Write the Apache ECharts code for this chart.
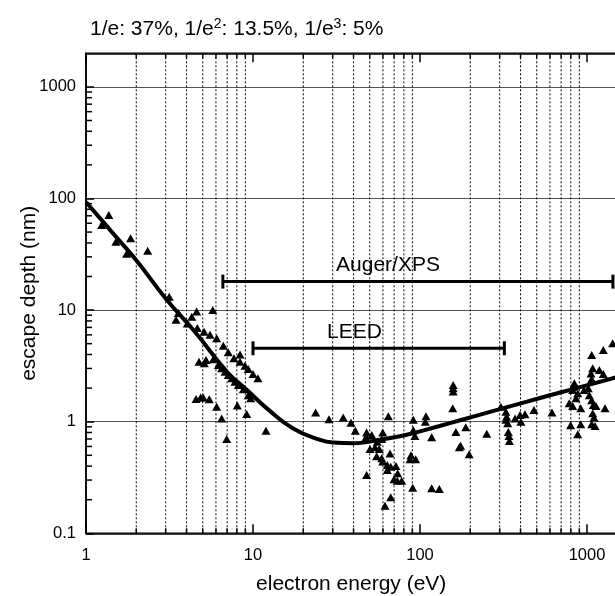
<!DOCTYPE html>
<html>
<head>
<meta charset="utf-8">
<script src="https://cdn.jsdelivr.net/npm/echarts@6/dist/echarts.min.js"></script>
<style>
html,body{margin:0;padding:0;background:#fff}
#chart{width:615px;height:596px}
</style>
</head>
<body>
<div id="chart"></div>
<script>
// universal curve
const curveE = [1, 1.5, 2, 3, 4.5, 7, 9.2, 12.6, 17.4, 25, 30, 40, 48, 65, 87, 131, 174, 208, 332, 523, 824, 1500]
const curveD = [93, 46, 28, 12.7, 6.36, 2.79, 1.92, 1.25, 0.87, 0.69, 0.65, 0.64, 0.658, 0.71, 0.776, 0.915, 1.03, 1.11, 1.35, 1.63, 1.96, 2.5]

// measured points [energy eV, depth nm]
const pointsLow = [
  [1.37,71],[1.24,58],[1.51,41],[1.85,44],[1.75,32],[2.34,34],[3.15,13.2],[3.57,9.4],[3.46,8.2],
  [4.6,9.7],[5.74,10],[4.3,8.7],[4.04,7.6],[4.64,6.9],[5.09,6.4],[5.53,6.0],[6.06,5.6],[6.64,4.8],
  [7.11,4.2],[8.36,4.0],[7.69,3.7],[8.36,3.45],[8.96,3.17],[9.37,2.97],[10.0,2.67],[10.7,2.45],
  [4.75,3.45],[5.23,3.57],[5.11,3.34],[5.78,3.62],[6.2,3.22],[6.49,3.01],[6.8,2.8],[7.11,2.62],
  [7.46,2.45],[7.8,2.28],[8.17,2.13],[8.75,1.95],[9.37,1.73],[9.69,1.62],[4.56,1.6],[4.86,1.65],
  [5.04,1.65],[5.47,1.59],[6.06,1.36],[8.05,1.4],[6.49,1.07],[9.17,1.17],[6.96,0.70],[11.96,0.83]
]
const pointsMid = [
  [23.7,1.21],[28.5,1.05],[34.7,1.09],[38.6,0.98],[41,0.83],[47.9,0.80],[51.4,0.76],[47.5,0.725],
  [59.8,0.80],[59,0.70],[64.6,1.12],[55.5,0.66],[50.2,0.57],[53.8,0.59],[57,0.57],[55,0.49],
  [59,0.47],[66.1,0.52],[59.8,0.44],[63.7,0.41],[66.8,0.395],[71.8,0.40],[63.7,0.37],[73.5,0.345],
  [47.9,0.333],[69.9,0.305],[73.1,0.296],[77.7,0.296],[66.8,0.21],[61.7,0.177],[91.2,1.04],
  [91.2,0.84],[93.3,0.745],[108.6,1.12],[107.6,1.0],[117.5,0.725],[88.3,0.50],[94.2,0.46],
  [87.1,0.46],[90.4,0.256],[117.5,0.253],[130.5,0.249],[158,2.13],[158,1.99],[158,1.86],
  [157,1.32],[164,0.81],[172,0.59],[188,0.89],[175,0.61],[197,0.51]
]
const pointsHigh = [
  [251,0.78],[305,1.36],[327,1.23],[330,1.11],[327,1.04],[335,0.97],[338,0.81],[341,0.745],
  [343,0.67],[371,1.07],[397,1.15],[402,1.0],[425,1.165],[481,1.27],[617,1.21],[798,0.93],
  [821,1.92],[840,2.21],[821,2.06],[783,1.46],[821,1.38],[859,1.62],[880,1.8],[917,1.32],
  [917,0.95],[880,0.77],[960,1.92],[1018,1.99],[1067,2.41],[1082,3.01],[1067,3.96],[1057,2.71],
  [1032,1.73],[1067,1.56],[1091,1.41],[1132,1.38],[1082,1.19],[1101,1.09],[1067,0.95],
  [1117,0.915],[1185,2.9],[1252,4.39],[1252,2.67],[1282,1.32],[1425,5.04]
]

// ranges [from eV, to eV, depth]
const rangeBars = [[6.6, 1430, 18], [10, 320, 4.55]]
const rangeNames = ['Auger/XPS', 'LEED']
const rangeLabelPos = [[64.3, 25.1], [40.5, 6.36]]

const xMin = 1, xMax = 1500, yMin = 0.1, yMax = 2000
const xMinorTicks = [2,3,4,5,6,7,8,9,20,30,40,50,60,70,80,90,200,300,400,500,600,700,800,900]
const yMinorTicks = [0.2,0.3,0.4,0.5,0.6,0.7,0.8,0.9,2,3,4,5,6,7,8,9,20,30,40,50,60,70,80,90,200,300,400,500,600,700,800,900]

const FONT = 'Liberation Sans, Arial, sans-serif'
const chart = echarts.init(document.getElementById('chart'))

const plainNum = v => String(v)

const xAxisBase = {
  type: 'log', logBase: 10, min: xMin, max: xMax,
  axisLine: {lineStyle: {color: '#000', width: 1.5}},
  axisTick: {inside: true, length: 9, lineStyle: {color: '#000', width: 1.5}},
  splitLine: {show: false}
}

chart.setOption({
  animation: false,
  backgroundColor: '#fff',
  title: {
    left: 90, top: 17, padding: 0,
    text: '{a|1/e: 37%, 1/e}{s|2}{a|: 13.5%, 1/e}{s|3}{a|: 5%}',
    textStyle: {
      rich: {
        a: {fontSize: 21, fontFamily: FONT, color: '#000', fontWeight: 'normal', lineHeight: 25},
        s: {fontSize: 14, fontFamily: FONT, color: '#000', fontWeight: 'normal', lineHeight: 15, verticalAlign: 'top'}
      }
    }
  },
  grid: {
    left: 86, top: 53.3, width: 530.4, height: 480,
    show: true, borderColor: '#000', borderWidth: 1.5,
    containLabel: false, outerBoundsMode: 'none'
  },
  xAxis: [
    Object.assign({}, xAxisBase, {
      position: 'bottom',
      axisLabel: {color: '#000', fontSize: 16.5, fontFamily: FONT, margin: 14, showMaxLabel: false, formatter: plainNum},
      name: 'electron energy (eV)', nameLocation: 'middle', nameGap: 40, nameMoveOverlap: false,
      nameTextStyle: {color: '#000', fontSize: 21, fontFamily: FONT}
    }),
    Object.assign({}, xAxisBase, {position: 'top', axisLabel: {show: false}})
  ],
  yAxis: {
    type: 'log', logBase: 10, min: yMin, max: yMax,
    axisLine: {lineStyle: {color: '#000', width: 1.5}},
    axisTick: {inside: true, length: 8, lineStyle: {color: '#000', width: 1.5}},
    axisLabel: {color: '#000', fontSize: 16.5, fontFamily: FONT, margin: 10, showMaxLabel: false, formatter: plainNum},
    splitLine: {show: true, lineStyle: {color: '#555', width: 1}},
    name: 'escape depth (nm)', nameLocation: 'middle', nameGap: 46, nameMoveOverlap: false,
    nameTextStyle: {color: '#000', fontSize: 21, fontFamily: FONT}
  },
  series: [
    {
      // dotted minor grid + minor ticks on top/bottom
      type: 'custom', silent: true, z: 1,
      data: xMinorTicks.map(v => [v, yMin]),
      encode: {x: 0, y: 1},
      renderItem: (params, api) => {
        const v = api.value(0)
        const t = api.coord([v, yMax])
        const b = api.coord([v, yMin])
        return {type: 'group', children: [
          {type: 'line', shape: {x1: t[0], y1: t[1], x2: b[0], y2: b[1]}, style: {stroke: '#000', lineWidth: 1, lineDash: [2, 2]}},
          {type: 'line', shape: {x1: t[0], y1: t[1], x2: t[0], y2: t[1] + 5}, style: {stroke: '#000', lineWidth: 1.5}},
          {type: 'line', shape: {x1: b[0], y1: b[1], x2: b[0], y2: b[1] - 5}, style: {stroke: '#000', lineWidth: 1.5}}
        ]}
      }
    },
    {
      // minor ticks on left axis
      type: 'custom', silent: true, z: 1,
      data: yMinorTicks.map(v => [xMin, v]),
      encode: {x: 0, y: 1},
      renderItem: (params, api) => {
        const p = api.coord([xMin, api.value(1)])
        return {type: 'line', shape: {x1: p[0], y1: p[1], x2: p[0] + 6, y2: p[1]}, style: {stroke: '#000', lineWidth: 1.5}}
      }
    },
    {
      type: 'line', z: 3, silent: true,
      data: curveE.map((e, i) => [e, curveD[i]]),
      showSymbol: false, smooth: 0.5,
      lineStyle: {color: '#000', width: 4}
    },
    {
      type: 'scatter', z: 4, silent: true,
      data: pointsLow.concat(pointsMid, pointsHigh),
      symbol: 'triangle', symbolSize: [9, 8],
      itemStyle: {color: '#000', opacity: 1}
    },
    {
      // range bars with end caps and their names
      type: 'custom', silent: true, z: 5,
      data: rangeBars,
      encode: {x: [0, 1], y: 2},
      renderItem: (params, api) => {
        const a = api.coord([api.value(0), api.value(2)])
        const b = api.coord([api.value(1), api.value(2)])
        const t = api.coord(rangeLabelPos[params.dataIndex])
        const st = {stroke: '#000', lineWidth: 3}
        return {type: 'group', children: [
          {type: 'line', shape: {x1: a[0], y1: a[1], x2: b[0], y2: b[1]}, style: st},
          {type: 'line', shape: {x1: a[0], y1: a[1] - 7, x2: a[0], y2: a[1] + 7}, style: st},
          {type: 'line', shape: {x1: b[0], y1: b[1] - 7, x2: b[0], y2: b[1] + 7}, style: st},
          {type: 'text', x: t[0], y: t[1], style: {
            text: rangeNames[params.dataIndex], fill: '#000', font: '21px ' + FONT,
            align: 'center', verticalAlign: 'middle'
          }}
        ]}
      }
    }
  ]
})
</script>
</body>
</html>
